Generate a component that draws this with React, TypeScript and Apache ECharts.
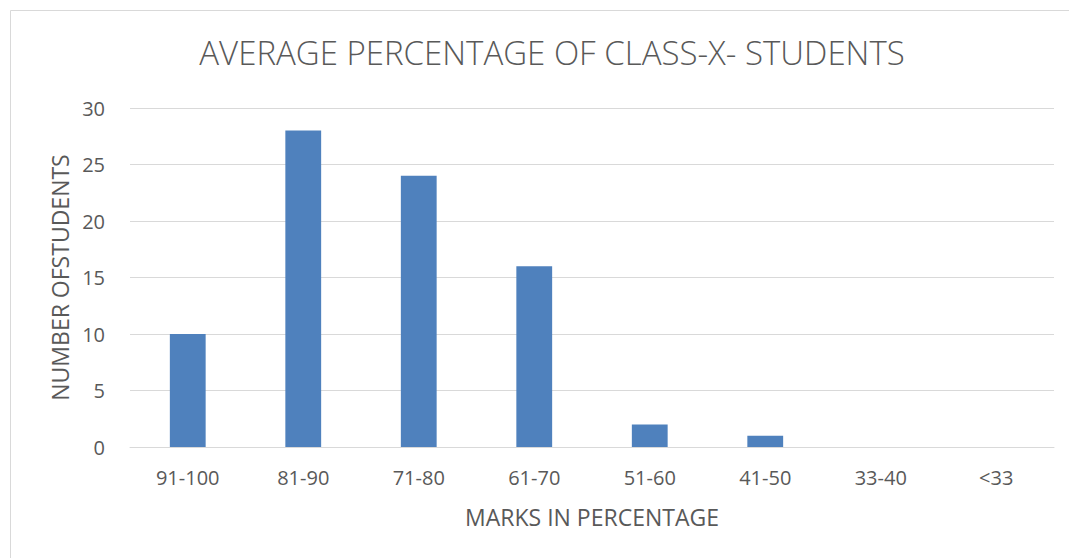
import React, { useEffect, useRef } from "react";
import * as echarts from "echarts";

const categories = ["91-100", "81-90", "71-80", "61-70", "51-60", "41-50", "33-40", "<33"];
const students = [10, 28, 24, 16, 2, 1, 0, 0];
const titleText = "AVERAGE PERCENTAGE OF CLASS-X- STUDENTS";
const xName = "MARKS IN PERCENTAGE";
const yName = "NUMBER OFSTUDENTS";

export default function App() {
  const ref = useRef<HTMLDivElement>(null);
  useEffect(() => {
    const chart = echarts.init(ref.current!, null, { renderer: "svg" });
    const font = "'Open Sans', 'Noto Sans', sans-serif";
    chart.setOption({
      animation: false,
      backgroundColor: "#ffffff",
      textStyle: { fontFamily: font },
      title: {
        text: titleText,
        left: 547,
        textAlign: "center",
        top: 31,
        textStyle: { fontSize: 33, fontWeight: 300, color: "#595959", fontFamily: font },
      },
      graphic: [
        {
          type: "rect",
          shape: { x: 10.5, y: 10.5, width: 1080, height: 560 },
          style: { fill: "none", stroke: "#d9d9d9", lineWidth: 1 },
          silent: true,
        },
      ],
      grid: { left: 130, right: 15, top: 108, bottom: 111 },
      xAxis: {
        type: "category",
        data: categories,
        name: xName,
        nameLocation: "middle",
        nameGap: 58,
        nameTextStyle: { fontSize: 23, color: "#595959", fontFamily: font },
        axisLine: { show: true, lineStyle: { color: "#d9d9d9", width: 1 } },
        axisTick: { show: false },
        axisLabel: { fontSize: 20, color: "#595959", margin: 20, fontFamily: font },
      },
      yAxis: {
        type: "value",
        min: 0,
        max: 30,
        interval: 5,
        name: yName,
        nameLocation: "middle",
        nameGap: 58,
        nameRotate: 90,
        nameTextStyle: { fontSize: 23, color: "#595959", fontFamily: font },
        axisLine: { show: false },
        axisTick: { show: false },
        splitLine: { lineStyle: { color: "#d9d9d9", width: 1 } },
        axisLabel: { fontSize: 20, color: "#595959", margin: 25, fontFamily: font },
      },
      series: [
        {
          type: "bar",
          data: students,
          barWidth: "31%",
          itemStyle: { color: "#4f81bd" },
        },
      ],
    });
    return () => chart.dispose();
  }, []);
  return (
    <div
      ref={ref}
      style={{ position: "fixed", left: 0, top: 0, width: 1069, height: 558 }}
    />
  );
}
